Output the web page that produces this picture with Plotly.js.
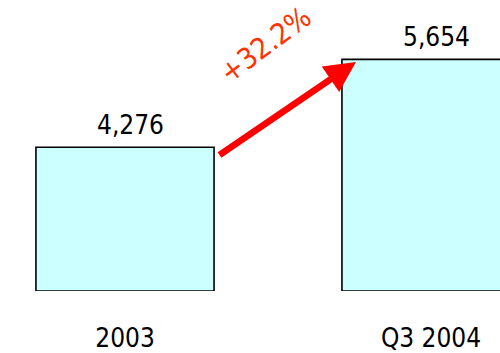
<!DOCTYPE html>
<html>
<head>
<meta charset="utf-8">
<script src="https://cdn.plot.ly/plotly-3.0.1.min.js"></script>
<style>html,body{margin:0;padding:0;background:#fff;}#chart{width:500px;height:353px;}</style>
</head>
<body>
<div id="chart"></div>
<script>
// Data
const categories = ["2003", "Q3 2004"];
const values = [4276, 5654];
const valueLabels = ["4,276", "5,654"];
const growthLabel = "+32.2%";
const axisFloor = 2021; // truncated value axis start

const FONT = "'Liberation Sans Narrow', 'DejaVu Sans Condensed', sans-serif";

const trace = {
  type: "bar",
  x: categories,
  y: values.map(v => v - axisFloor),
  base: values.map(() => axisFloor),
  width: 0.582,
  marker: { color: "#ccffff", line: { color: "#000", width: 1.6 } },
  hoverinfo: "skip"
};

const annotations = categories.map((c, i) => ({
  x: i, y: values[i], xref: "x", yref: "y",
  text: valueLabels[i], showarrow: false,
  xanchor: "center", yanchor: "bottom", yshift: 5, xshift: 5,
  font: { family: FONT, size: 26, color: "#000" }
}));

annotations.push({
  xref: "paper", yref: "paper", x: 0.712, y: 0.787,
  ax: -138, ay: 94, axref: "pixel", ayref: "pixel",
  showarrow: true, arrowhead: 2, arrowsize: 0.95, arrowwidth: 6.5,
  arrowcolor: "#ff0000", standoff: 0, startstandoff: 0, text: ""
});
annotations.push({
  xref: "paper", yref: "paper", x: 0.53, y: 0.846,
  xanchor: "center", yanchor: "middle",
  text: growthLabel, showarrow: false, textangle: -37,
  font: { family: FONT, size: 29, color: "#ff3300" }
});

const layout = {
  width: 500, height: 353,
  margin: { l: 0, r: 0, t: 0, b: 61.5 },
  paper_bgcolor: "#fff", plot_bgcolor: "#fff",
  showlegend: false,
  xaxis: {
    type: "category", range: [-0.4085, 1.2255],
    showgrid: false, zeroline: false, showline: false, ticks: "",
    ticklabelstandoff: 29,
    tickfont: { family: FONT, size: 26, color: "#000" }
  },
  yaxis: {
    range: [axisFloor, axisFloor + 291.5 / 0.06386],
    visible: false, showgrid: false, zeroline: false
  },
  annotations: annotations
};

Plotly.newPlot("chart", [trace], layout, { displayModeBar: false, staticPlot: true });
</script>
</body>
</html>
